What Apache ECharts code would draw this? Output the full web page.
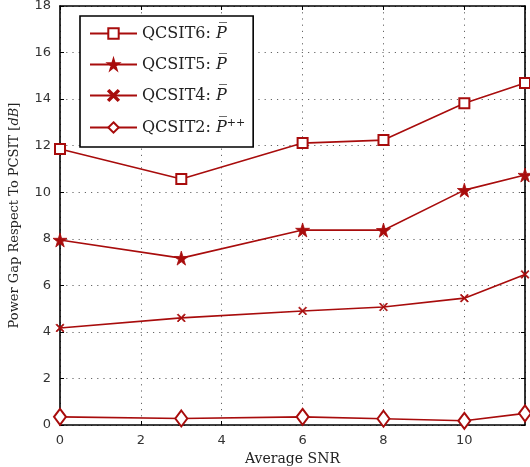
<!DOCTYPE html>
<html><head><meta charset="utf-8">
<script src="https://cdn.jsdelivr.net/npm/echarts@6/dist/echarts.min.js"></script>
<style>html,body{margin:0;padding:0;background:#fff}#c{width:530px;height:467px}</style>
</head><body><div id="c"></div>
<script>
const snr = [0, 3, 6, 8, 10, 11.5];
const qcsit6 = [11.86, 10.57, 12.11, 12.24, 13.82, 14.69];
const qcsit5 = [7.95, 7.17, 8.38, 8.37, 10.09, 10.74];
const qcsit4 = [4.17, 4.6, 4.9, 5.07, 5.45, 6.47];
const qcsit2 = [0.35, 0.28, 0.35, 0.27, 0.18, 0.5];
const seriesNames = ['QCSIT6', 'QCSIT5', 'QCSIT4', 'QCSIT2'];
const xTicks = [0, 2, 4, 6, 8, 10];
const yTicks = [0, 2, 4, 6, 8, 10, 12, 14, 16, 18];

const red = '#a80c0c';
const serif = '"DejaVu Serif", "Liberation Serif", serif';
const STAR = 'path://M50,0 L61,35 L98,35 L68,57 L79,91 L50,70 L21,91 L32,57 L2,35 L39,35 Z';
const CROSS = 'path://M1,0 L5,4 L9,0 L10,1 L6,5 L10,9 L9,10 L5,6 L1,10 L0,9 L4,5 L0,1 Z';

function pairs(ys) { return snr.map((x, i) => [x, ys[i]]); }
function mk(name, ys, symbol, size, filled) {
  return {
    name, type: 'line', data: pairs(ys), symbol, symbolSize: size,
    lineStyle: { color: red, width: 1.6 },
    itemStyle: filled ? { color: red, borderColor: red, borderWidth: 0.8 } : { color: red, borderColor: red, borderWidth: 1.6 },
    showAllSymbol: true, z: 3
  };
}

const chart = echarts.init(document.getElementById('c'));
const axisCommon = {
  type: 'value',
  axisLine: { show: true, onZero: false, lineStyle: { color: '#000', width: 1.6 } },
  axisTick: { show: true, inside: true, length: 4, lineStyle: { color: '#000' } },
};
chart.setOption({
  animation: false,
  backgroundColor: '#fff',
  grid: { left: 60, right: 5, top: 6, bottom: 42, show: false, outerBoundsMode: 'none', containLabel: false },
  legend: {
    orient: 'vertical', left: 80, top: 16,
    padding: [9, 8, 10, 9],
    itemWidth: 47, itemHeight: 13, itemGap: 14,
    backgroundColor: '#fff', borderColor: '#000', borderWidth: 1.6,
    data: seriesNames,
    formatter: function (n) {
      if (n === 'QCSIT2') return n + ': {p|P\u0305}{sup|++}';
      return n + ': {p|P\u0305}';
    },
    textStyle: {
      fontFamily: serif, fontSize: 16, color: '#222', lineHeight: 17,
      rich: {
        p: { fontFamily: serif, fontStyle: 'italic', fontSize: 16, color: '#222', lineHeight: 17 },
        sup: { fontFamily: serif, fontSize: 11, color: '#222', lineHeight: 8, padding: [0, 0, 8, 0] }
      }
    }
  },
  xAxis: [Object.assign({}, axisCommon, {
    min: 0, max: 11.5, interval: 2, position: 'bottom',
    name: 'Average SNR', nameLocation: 'middle', nameGap: 23,
    nameTextStyle: { fontFamily: serif, fontSize: 14, color: '#222' },
    axisLabel: { color: '#333', fontSize: 13, fontFamily: '"DejaVu Sans", sans-serif', margin: 9, showMaxLabel: false,
      formatter: v => xTicks.indexOf(v) >= 0 ? String(v) : '' },
    splitLine: { show: true, lineStyle: { color: '#666', type: [1.2, 5], width: 1 } }
  }), Object.assign({}, axisCommon, {
    min: 0, max: 11.5, interval: 2, position: 'top',
    axisLabel: { show: false }, splitLine: { show: false }
  })],
  yAxis: [Object.assign({}, axisCommon, {
    min: 0, max: 18, interval: 2, position: 'left',
    name: 'Power Gap Respect To PCSIT [{i|dB}]', nameLocation: 'middle', nameGap: 39,
    nameTextStyle: { fontFamily: serif, fontSize: 13, color: '#222',
      rich: { i: { fontFamily: serif, fontStyle: 'italic', fontSize: 13, color: '#222' } } },
    axisLabel: { color: '#333', fontSize: 13, fontFamily: '"DejaVu Sans", sans-serif', margin: 9,
      formatter: v => yTicks.indexOf(v) >= 0 ? String(v) : '' },
    splitLine: { show: true, lineStyle: { color: '#666', type: [1.2, 5], width: 1 } }
  }), Object.assign({}, axisCommon, {
    min: 0, max: 18, interval: 2, position: 'right',
    axisLabel: { show: false }, splitLine: { show: false }
  })],
  series: [
    mk('QCSIT6', qcsit6, 'emptyRect', 10, false),
    mk('QCSIT5', qcsit5, STAR, 14, true),
    mk('QCSIT4', qcsit4, CROSS, 8, true),
    mk('QCSIT2', qcsit2, 'emptyDiamond', [12, 16], false)
  ]
});
</script></body></html>
